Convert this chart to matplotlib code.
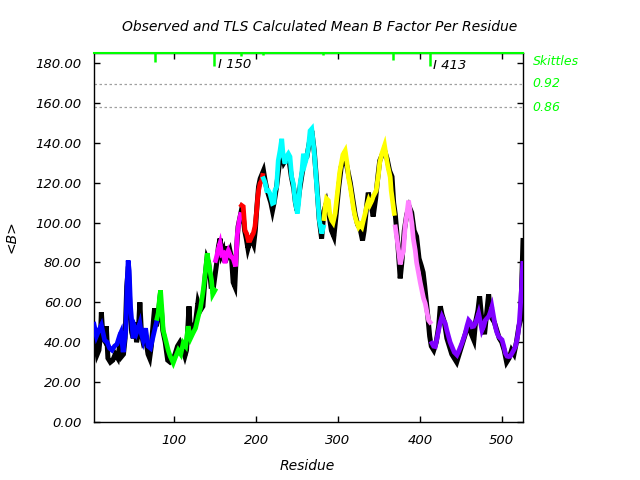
import matplotlib
matplotlib.use('Agg')
import matplotlib.pyplot as plt
import numpy as np

# TLS calculated mean B per residue (coloured by TLS segment)
tls_res = [2, 5, 8, 11, 15, 18, 21, 24, 27, 30, 33.5, 35, 37.6, 40.9, 42.5, 43.7, 45, 46.6, 49.8, 52,
           53.9, 56, 58, 60, 62, 65, 68, 71, 74.3, 76, 78.3,
           79, 80.4, 82, 83.3, 85, 86.5, 89, 92.6, 95, 98.8, 101, 104.9, 108, 111, 114, 117, 120, 123, 126,
           129.3, 132, 135.4, 138, 140.3, 142, 145.6, 147, 149.7,
           150.5, 151.7, 154, 155.9, 158, 160, 162, 164, 166, 169, 172, 175, 177, 179, 181,
           182.3, 184.3, 186.4, 188.4, 190.5, 192.5, 194.6, 196.6, 198.6, 200.7, 202, 203, 204.8, 206.8, 208,
           209, 211, 213, 215, 217, 220, 222, 223, 225, 227, 229.2, 231.3, 233, 235.3, 237, 239.4, 241.4,
           243.5, 245.5, 247.6, 250.4, 252, 253.7, 255.7, 257.8, 260, 261.9, 264, 265.9, 268, 270.8, 272,
           274.1, 277.3, 280.2, 282.2,
           283, 284.3, 286, 288.3, 290, 292.4, 294, 296.5, 298, 300.6, 302, 304.7, 306, 308.8, 311, 312.8,
           315, 316.9, 319, 321, 323, 325.1, 327, 329.2, 331, 333.3, 335, 337.3, 339, 341.4, 343, 346.7,
           349.6, 351, 353.6, 356.9, 359.7, 361, 363.8, 365, 367.1, 368.7,
           370, 372, 374, 376, 378, 380, 382, 384, 386.2, 388, 390.3, 392, 394.4, 396, 398.5, 400.5, 402.5,
           404.5, 406.6, 408.7, 410.7, 412.5,
           414.8, 416.8, 418.8, 421, 422.9, 425, 427, 429, 431, 433, 435.1, 437, 439.2, 442, 445.3, 448,
           451.4, 453.5, 455.5, 457.5, 459.6, 461.7, 463.7, 465.8, 467.8, 470, 471.8, 474, 475.9, 478, 480,
           482, 484, 486, 488, 490, 492.2, 494, 496.3, 498.3, 500.4, 502.5, 504.5, 506.5, 508.5, 510.5,
           512.6, 514.6, 516.7, 518.5, 520, 521.5, 522.8, 524.3, 525.7]
tls_val = [49, 43, 46, 48.6, 41, 40, 37, 36, 38, 39, 43.6, 45, 35, 46, 70, 81, 76, 58, 42, 47,
           44.6, 47, 49.6, 44, 41, 47, 38, 37, 43, 46, 50,
           52, 54.6, 62, 66, 56, 46, 42, 36, 33, 29.6, 32, 36, 34, 39.6, 38, 48, 42, 44.6, 47,
           52.8, 57, 66, 75, 84.6, 80, 71, 64, 66,
           81, 82.8, 87, 89.6, 84, 84.5, 79.6, 84, 86, 83, 82, 78, 94, 100, 104,
           108.6, 108, 96, 94.5, 91, 91, 93, 94.6, 98, 106, 112.8, 116, 119.6, 121, 123.6,
           122, 120, 116, 116, 114.5, 109.6, 110, 116, 117.8, 131, 136, 142, 134, 129.5, 133, 134.5, 133,
           122.8, 119.6, 111, 104.5, 110, 119.5, 124.6, 134.5, 130, 132.8, 138, 146, 147, 136, 130,
           117.8, 101, 94.5, 97.8,
           102, 107.8, 112, 111, 104, 101, 100, 104.6, 110, 119.5, 125, 131, 134, 136, 130, 122.8,
           118, 112.8, 107, 102.8, 100, 97.8, 99, 97.8, 101, 104.6, 108, 111, 109, 111, 113, 116,
           124.5, 130, 134.5, 138.6, 131, 128, 122.8, 116, 109.5, 104.6,
           97.8, 92, 86, 79, 82.8, 86, 97.8, 104, 111, 106, 99.5, 92, 86, 80, 74.5, 70, 66,
           62, 59.5, 55, 51, 50,
           39.5, 38, 37.8, 42, 46, 50, 52.8, 51, 49.5, 46, 42.8, 40, 37.8, 35, 33.6, 36,
           39.5, 42, 44.5, 48, 51, 50, 47.8, 48, 49.5, 52, 54.5, 50, 46, 48, 51,
           52, 52.8, 55, 57.8, 53, 47.8, 45, 42.8, 42, 41.2, 38, 34.5, 33, 32.8, 33,
           34.5, 36, 37.8, 41, 44.5, 50, 57.8, 68, 79.5]

# observed mean B per residue
obs_res = [2, 4, 6, 8, 10, 11, 13, 16, 17, 19, 22, 25, 28, 31, 34, 36, 38, 40, 42, 44, 46, 48, 50, 52,
           54, 56, 58, 60, 62, 65, 68, 70, 72, 74, 76, 78, 80, 82, 84, 86, 89, 92, 95, 98, 101, 104, 107,
           110, 113, 115, 117, 118, 120, 123, 126, 129, 132, 135, 138, 140, 142, 145, 148, 150, 152, 154,
           156, 158, 160, 162, 164, 166, 168, 170, 172, 174, 176, 178, 180, 182, 184, 186, 188, 190, 192,
           194, 197, 199, 201, 203, 205, 207, 209, 211, 213, 215, 218, 220, 222, 225, 228, 231, 234, 237,
           240, 243, 246, 248, 250, 253, 256, 259, 262, 265, 268, 271, 274, 277, 280, 283, 286, 289, 292,
           295, 298, 301, 304, 307, 310, 313, 315, 318, 321, 324, 327, 330, 332, 335, 337, 340, 343, 346,
           349, 351, 354, 357, 360, 363, 366, 368, 370, 373, 376, 378, 381, 384, 387, 390, 393, 396, 399,
           402, 404, 406, 408, 410, 412, 414, 417, 420, 423, 425, 427, 430, 433, 436, 439, 442, 445, 448,
           451, 454, 457, 460, 463, 466, 468, 471, 473, 476, 479, 482, 484, 486, 488, 491, 494, 497, 500,
           503, 506, 509, 512, 515, 518, 521, 523, 524.5, 526]
obs_val = [46, 40, 34, 36, 44, 55, 42, 40, 48, 32, 30, 31, 34, 32, 40, 33, 34, 42, 68, 78, 56, 45, 42, 50,
           40, 44, 60, 44, 40, 42, 34, 32, 38, 48, 57, 48, 52, 60, 58, 46, 40, 31, 30, 31, 34, 38, 40,
           37, 33, 36, 50, 58, 44, 47, 50, 60, 56, 58, 74, 82, 80, 68, 68, 74, 80, 88,
           92, 84, 86, 80, 88, 84, 86, 82, 70, 68, 86, 98, 102, 106, 104, 96, 92, 87, 90,
           92, 89, 96, 108, 118, 122, 124, 126, 121, 117, 114, 110, 106, 110, 118, 128, 136, 130, 132,
           132, 123, 117, 110, 106, 116, 124, 132, 133, 140, 146, 136, 120, 102, 92, 106, 110, 104, 96,
           93, 105, 118, 128, 132, 130, 124, 120, 112, 104, 99, 97, 91, 96, 108, 115, 110, 103, 112,
           124, 131, 134, 136, 132, 126, 123, 110, 104, 90, 72, 80, 96, 104, 108, 105, 96, 93, 82,
           78, 75, 68, 60, 52, 43, 38, 36, 40, 48, 58, 54, 50, 42, 38, 34, 32, 30, 34,
           38, 42, 46, 48, 44, 41, 50, 56, 63, 50, 44, 56, 64, 56, 52, 50, 46, 42, 40,
           36, 30, 32, 36, 34, 40, 48, 51, 70, 91]

# TLS segment boundaries and colours
seg_bounds = [0, 78.5, 150.2, 182, 208.5, 282.5, 369, 414, 530]
seg_colors = ['#0000ff', '#00ff00', '#ff00ff', '#ff0000', '#00ffff', '#ffff00', '#ff80ff', '#8000ff']

# skittles markers at the top
skittle_res = [77, 149, 182, 208, 282, 367, 413]
skittle_len = [4.3, 6.3, 1.7, 1.2, 0.9, 3.7, 6.7]

green = '#00ff00'
font = dict(family='DejaVu Sans', style='italic')

fig = plt.figure(figsize=(6.4, 4.8), dpi=100)
ax = fig.add_axes([94 / 640, 58 / 480, 429 / 640, 369 / 480])
ax.set_xlim(2, 526)
ax.set_ylim(0, 185)

# observed (black) under TLS segments
ax.plot(obs_res, obs_val, color='black', lw=3.6, zorder=2, solid_joinstyle='miter')
tr = np.array(tls_res)
tv = np.array(tls_val)
for i, c in enumerate(seg_colors):
    m = (tr >= seg_bounds[i]) & (tr < seg_bounds[i + 1])
    ax.plot(tr[m], tv[m], color=c, lw=3.4, zorder=3, solid_joinstyle='miter')

# significance lines
for yv in [169.5, 157.8]:
    ax.axhline(yv, color='#a0a0a0', lw=0.9, ls=(0, (2, 2)), zorder=1)

# skittles
ax.axhline(185, color=green, lw=1.5, zorder=4, clip_on=False)
for r, L in zip(skittle_res, skittle_len):
    ax.plot([r, r], [185, 185 - L], color=green, lw=1.8, zorder=4, solid_capstyle='butt')
ax.text(153, 179, 'I 150', fontsize=9.5, ha='left', va='center', **font)
ax.text(416, 178.5, 'I 413', fontsize=9.5, ha='left', va='center', **font)

tb = ax.get_yaxis_transform()
ax.text(1.022, 180.6, 'Skittles', transform=tb, color=green, fontsize=9, va='center', **font)
ax.text(1.022, 169.5, '0.92', transform=tb, color=green, fontsize=9, va='center', **font)
ax.text(1.022, 157.8, '0.86', transform=tb, color=green, fontsize=9, va='center', **font)

ax.set_xticks([100, 200, 300, 400, 500])
ax.set_yticks(np.arange(0, 181, 20))
ax.set_yticklabels(['%.2f' % v for v in np.arange(0, 181, 20)])
ax.tick_params(direction='in', length=4, width=1, top=True, right=True, labelsize=9.5)
for lab in ax.get_xticklabels() + ax.get_yticklabels():
    lab.set_fontstyle('italic')
ax.tick_params(axis='y', pad=9)
ax.tick_params(axis='x', pad=9)
for s in ax.spines.values():
    s.set_linewidth(1)

fig.text(0.5, 1 - 27 / 480, 'Observed and TLS Calculated Mean B Factor Per Residue',
         ha='center', va='center', fontsize=10, **font)
fig.text(307 / 640, 1 - 466 / 480, 'Residue', ha='center', va='center', fontsize=10, **font)
fig.text(12 / 640, 1 - 237 / 480, '<B>', ha='center', va='center', rotation=90, fontsize=10, **font)

fig.savefig('out.png', dpi=100)
